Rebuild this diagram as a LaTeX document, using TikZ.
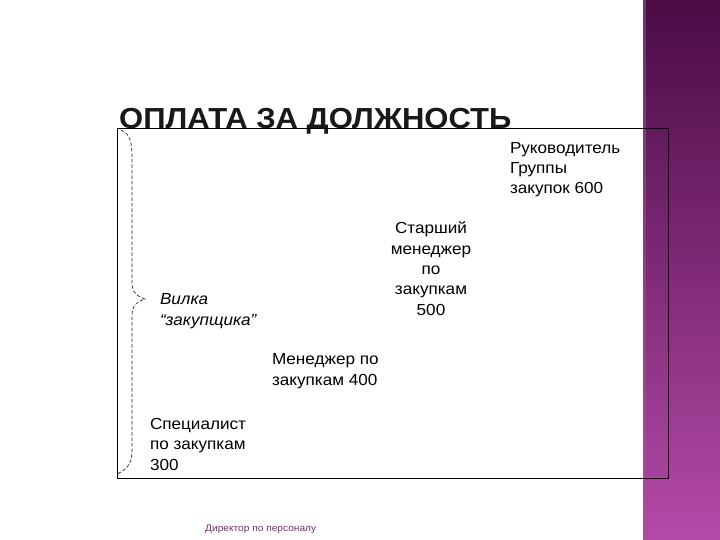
\documentclass[tikz,border=0pt]{standalone}
\usepackage{fontspec}
\setmainfont{Liberation Sans}[FakeStretch=1.07]
\definecolor{bandtop}{HTML}{4A0B45}
\definecolor{bandbot}{HTML}{B44AA8}
\definecolor{footc}{HTML}{7B2D73}
\begin{document}
\begin{tikzpicture}[x=1pt,y=-1pt,
  lbl/.style={inner sep=0pt, outer sep=0pt, font=\fontsize{16}{20.3}\selectfont, align=left, anchor=base west},
  bracestyle/.style={draw=black!85, line width=0.7pt, dash pattern=on 3.5pt off 2pt}]
\useasboundingbox (0,0) rectangle (720,540);
\fill[white] (0,0) rectangle (720,540);
% right band
\shade[top color=bandtop, bottom color=bandbot] (643,0) rectangle (720,540);
\fill[black!55, opacity=0.5] (643,0) rectangle (646,540);
% title
\node[inner sep=0pt, anchor=base west, font=\fontsize{29}{30}\bfseries\selectfont, text=black!90] (title) at (119,129) {ОПЛАТА ЗА ДОЛЖНОСТЬ};
% frame
\draw[line width=0.8pt] (117,128) rectangle (668,478);
% brace
\coordinate (btop) at (121,130);
\coordinate (btip) at (145,299);
\coordinate (bbot) at (117,474);
\draw[bracestyle] (btop) .. controls (130,134) and (132,142) .. (132,158) -- (132,282)
  .. controls (132,292) and (136,296) .. (btip)
  .. controls (136,302) and (132,306) .. (132,316) -- (132,452)
  .. controls (132,464) and (126,470) .. (bbot);
% labels (anchor base = baseline of last line)
\node[lbl] (ruk) at (510,194) {Руководитель\\Группы\\закупок 600};
\node[lbl, align=center, anchor=base] (star) at (431,315) {Старший\\менеджер\\по\\закупкам\\500};
\node[lbl, font=\fontsize{16}{20.3}\itshape\selectfont] (vil) at (160,325) {Вилка\\“закупщика”};
\node[lbl] (men) at (272,385) {Менеджер по\\закупкам 400};
\node[lbl] (spec) at (150,470) {Специалист\\по закупкам\\300};
\node[inner sep=0pt, anchor=base west, font=\fontsize{9.5}{10}\selectfont, text=footc] (foot) at (205,531) {Директор по персоналу};
\end{tikzpicture}
\end{document}
